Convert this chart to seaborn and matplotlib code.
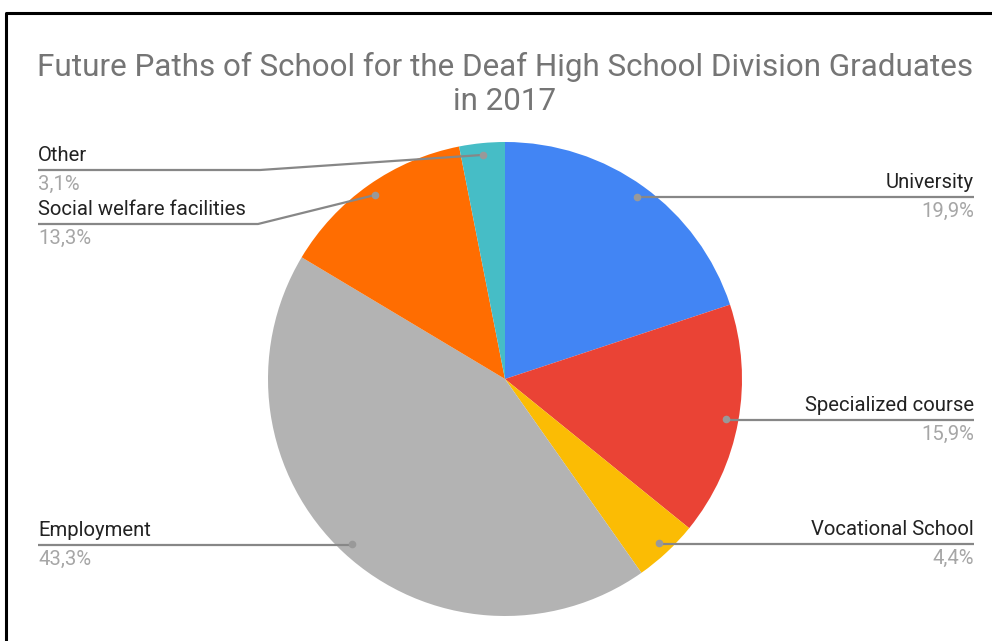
import numpy as np
import matplotlib
matplotlib.use("Agg")
import matplotlib.pyplot as plt
import seaborn as sns

sns.set_theme(style="white")
plt.rcParams["font.family"] = ["Roboto", "DejaVu Sans"]

title = "Future Paths of School for the Deaf High School Division Graduates\nin 2017"
categories = ["University", "Specialized course", "Vocational School",
              "Employment", "Social welfare facilities", "Other"]
shares = [19.9, 15.9, 4.4, 43.3, 13.3, 3.1]
pct_labels = ["19,9%", "15,9%", "4,4%", "43,3%", "13,3%", "3,1%"]
colors = ["#4285F4", "#EA4335", "#FBBC04", "#B3B3B3", "#FF6D01", "#46BDC6"]

W, H = 992, 641
fig = plt.figure(figsize=(W / 100, H / 100), dpi=100)

# pie axes: centre (505, 379) px, radius 237 px
cx, cy, r = 505, 379, 237
ax = fig.add_axes([(cx - r) / W, (H - cy - r) / H, 2 * r / W, 2 * r / H])
wedges, _ = ax.pie(shares, colors=colors, startangle=90, counterclock=False,
                   radius=1.0, wedgeprops=dict(linewidth=0))
ax.set_xlim(-1, 1)
ax.set_ylim(-1, 1)
ax.set_aspect("equal")
ax.axis("off")


def fline(xs, ys, **kw):
    """Draw a polyline given in pixel coordinates (top-left origin)."""
    fig.lines.append(plt.Line2D([x / W for x in xs], [1 - y / H for y in ys],
                                transform=fig.transFigure, **kw))


# frame around the chart (left and top edges visible)
fline([6, 6, W + 5], [H + 5, 13, 13], color="black", linewidth=2.2, zorder=10)

fig.text(505 / W, 1 - 84 / H, title, ha="center", va="center", fontsize=22.6,
         color="#757575", linespacing=1.2)

# label layout: side, underline y (px), knee x (px) or None
layout = {
    "University": ("right", 197, None),
    "Specialized course": ("right", 420, None),
    "Vocational School": ("right", 544, None),
    "Employment": ("left", 545, None),
    "Social welfare facilities": ("left", 224, 258),
    "Other": ("left", 170, 260),
}
left_x, right_x = 38, 974

total = sum(shares)
cum = 0.0
for name, val, pct in zip(categories, shares, pct_labels):
    mid = 90 - (cum + val / 2) / total * 360
    cum += val
    ang = np.deg2rad(mid)
    dot_px = cx + 0.95 * np.cos(ang) * r
    dot_py = cy - 0.95 * np.sin(ang) * r
    side, ly, knee = layout[name]
    end_x = right_x if side == "right" else left_x
    if knee is None:
        xs, ys = [dot_px, end_x], [ly, ly]
    else:
        xs, ys = [dot_px, knee, end_x], [dot_py, ly, ly]
    fline(xs, ys, color="#878787", linewidth=1.6, zorder=5, solid_capstyle="butt")
    fline([dot_px], [dot_py], marker="o", markersize=5.5, color="#999999",
          markeredgewidth=0, zorder=6, linestyle="none")
    ha = "right" if side == "right" else "left"
    fig.text(end_x / W, 1 - (ly - 5) / H, name, ha=ha, va="bottom", fontsize=14.6,
             color="#222222")
    fig.text(end_x / W, 1 - (ly + 5) / H, pct, ha=ha, va="top", fontsize=14.6,
             color="#a6a6a6")

fig.savefig("out.png", dpi=100, facecolor="white")
